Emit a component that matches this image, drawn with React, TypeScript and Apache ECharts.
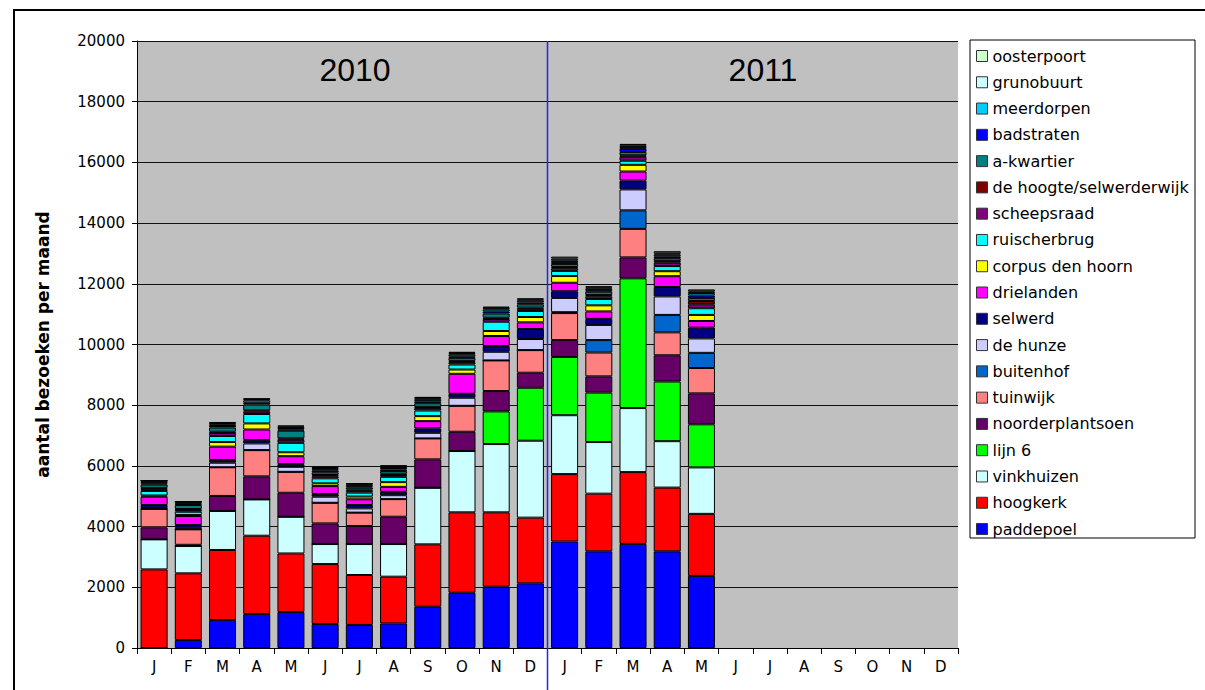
import React, { useEffect, useRef } from "react";
import * as echarts from "echarts";

const months = ["J", "F", "M", "A", "M", "J", "J", "A", "S", "O", "N", "D", "J", "F", "M", "A", "M", "J", "J", "A", "S", "O", "N", "D"];
const yTicks = { min: 0, max: 20000, interval: 2000 };
const yearLabels = ["2010", "2011"];

const paddepoel = [0, 264, 920, 1120, 1185, 790, 760, 810, 1360, 1820, 2020, 2130, 3510, 3185, 3430, 3185, 2375];
const hoogkerk = [2590, 2196, 2310, 2580, 1930, 1975, 1645, 1540, 2055, 2650, 2450, 2165, 2220, 1900, 2365, 2100, 2045];
const vinkhuizen = [990, 900, 1285, 1195, 1210, 660, 1020, 1075, 1865, 2020, 2250, 2535, 1940, 1700, 2110, 1530, 1530];
const lijn6 = [0, 0, 0, 0, 0, 0, 0, 0, 0, 0, 1075, 1745, 1920, 1630, 4275, 1965, 1420];
const noorderplantsoen = [395, 40, 495, 760, 790, 680, 595, 900, 935, 635, 670, 495, 555, 535, 690, 865, 1020];
const tuinwijk = [605, 510, 945, 865, 690, 680, 440, 580, 690, 855, 1010, 745, 890, 785, 940, 755, 835];
const buitenhof = [0, 0, 0, 0, 0, 0, 0, 0, 0, 0, 0, 0, 30, 410, 610, 575, 500];
const deHunze = [30, 50, 150, 220, 165, 200, 140, 130, 185, 265, 285, 365, 470, 500, 690, 610, 475];
const selwerd = [100, 90, 90, 110, 90, 90, 110, 110, 145, 130, 190, 330, 220, 200, 290, 310, 355];
const drielanden = [275, 300, 440, 350, 260, 260, 190, 165, 240, 660, 330, 220, 280, 245, 300, 355, 220];
const corpusDenHoorn = [40, 30, 150, 200, 130, 90, 90, 155, 165, 140, 165, 175, 220, 200, 220, 165, 200];
const ruischerbrug = [150, 110, 200, 310, 310, 165, 130, 175, 185, 165, 305, 200, 170, 210, 135, 170, 220];
const scheepsraad = [60, 60, 100, 80, 100, 70, 60, 60, 80, 80, 90, 70, 90, 90, 130, 110, 130];
const deHoogte = [40, 30, 40, 40, 50, 40, 40, 40, 40, 40, 40, 40, 40, 40, 50, 60, 110];
const aKwartier = [110, 130, 140, 190, 250, 90, 70, 90, 120, 100, 140, 110, 100, 110, 110, 90, 100];
const badstraten = [40, 40, 50, 60, 40, 60, 40, 50, 50, 50, 70, 60, 60, 50, 100, 60, 80];
const meerdorpen = [50, 40, 60, 80, 50, 40, 50, 50, 60, 70, 70, 60, 60, 50, 60, 60, 80];
const grunobuurt = [40, 30, 40, 40, 50, 40, 30, 50, 60, 40, 50, 40, 60, 40, 60, 40, 60];
const oosterpoort = [0, 0, 30, 20, 30, 45, 20, 45, 40, 40, 35, 35, 60, 40, 45, 70, 60];

const seriesDefs: [string, number[], string][] = [
  ["paddepoel", paddepoel, "#0000FF"],
  ["hoogkerk", hoogkerk, "#FF0000"],
  ["vinkhuizen", vinkhuizen, "#CCFFFF"],
  ["lijn 6", lijn6, "#00FF00"],
  ["noorderplantsoen", noorderplantsoen, "#660066"],
  ["tuinwijk", tuinwijk, "#FF8080"],
  ["buitenhof", buitenhof, "#0066CC"],
  ["de hunze", deHunze, "#CCCCFF"],
  ["selwerd", selwerd, "#000080"],
  ["drielanden", drielanden, "#FF00FF"],
  ["corpus den hoorn", corpusDenHoorn, "#FFFF00"],
  ["ruischerbrug", ruischerbrug, "#00FFFF"],
  ["scheepsraad", scheepsraad, "#800080"],
  ["de hoogte/selwerderwijk", deHoogte, "#800000"],
  ["a-kwartier", aKwartier, "#008080"],
  ["badstraten", badstraten, "#0000FF"],
  ["meerdorpen", meerdorpen, "#00CCFF"],
  ["grunobuurt", grunobuurt, "#CCFFFF"],
  ["oosterpoort", oosterpoort, "#CCFFCC"],
];

const FONT = "DejaVu Sans";

export default function App() {
  const ref = useRef<HTMLDivElement>(null);
  useEffect(() => {
    if (!ref.current) return;
    const chart = echarts.init(ref.current, null, { renderer: "svg" });
    const gridLeft = 137, gridTop = 41, gridW = 821, gridH = 607;
    const catW = gridW / months.length;
    const series = seriesDefs.map(([name, vals, color]) => ({
      name,
      type: "bar",
      stack: "total",
      barCategoryGap: "21%",
      data: months.map((_, i) => (i < vals.length ? vals[i] : null)),
      itemStyle: { color, borderColor: "#000", borderWidth: 1 },
      emphasis: { disabled: true },
    }));
    chart.setOption({
      animation: false,
      backgroundColor: "#fff",
      textStyle: { fontFamily: FONT },
      grid: { left: gridLeft, top: gridTop, width: gridW, height: gridH, show: true, backgroundColor: "#C0C0C0", borderWidth: 0 },
      legend: {
        left: 970,
        top: 40,
        orient: "vertical",
        icon: "rect",
        padding: [8, 8, 8, 6],
        itemWidth: 11,
        itemHeight: 11,
        itemGap: 10.28,
        data: seriesDefs.map((s) => s[0]).reverse(),
        itemStyle: { borderColor: "#333", borderWidth: 1 },
        textStyle: { fontFamily: FONT, fontSize: 16, lineHeight: 16, color: "#000" },
        selectedMode: false,
      },
      xAxis: {
        type: "category",
        data: months,
        axisLine: { lineStyle: { color: "#000", width: 1 } },
        axisTick: { show: true, length: 6, lineStyle: { color: "#000" }, alignWithLabel: false },
        axisLabel: { color: "#000", fontSize: 15, fontFamily: FONT, margin: 11, interval: 0 },
        splitLine: { show: false },
      },
      yAxis: {
        type: "value",
        min: yTicks.min,
        max: yTicks.max,
        interval: yTicks.interval,
        name: "aantal bezoeken per maand",
        nameLocation: "middle",
        nameRotate: 90,
        nameGap: 86,
        nameTextStyle: { fontFamily: FONT, fontSize: 17, fontWeight: "bold", color: "#000" },
        axisLine: { show: true, lineStyle: { color: "#000", width: 1 } },
        axisTick: { show: true, length: 5, lineStyle: { color: "#000" } },
        axisLabel: { color: "#000", fontSize: 15, fontFamily: FONT, margin: 12, formatter: (v: number) => String(v) },
        splitLine: { show: true, lineStyle: { color: "#111", width: 1 } },
      },
      series,
      graphic: [
        { type: "rect", silent: true, shape: { x: 14, y: 10, width: 1400, height: 900 }, style: { fill: "none", stroke: "#000", lineWidth: 2 } },
        { type: "rect", silent: true, z: -1, shape: { x: 970, y: 40, width: 225, height: 498 }, style: { fill: "#fff", stroke: "#000", lineWidth: 1 } },
        { type: "line", silent: true, z: 100, shape: { x1: gridLeft + catW * 12, y1: gridTop, x2: gridLeft + catW * 12, y2: 690 }, style: { stroke: "#2222ff", lineWidth: 1.5 } },
        { type: "text", silent: true, z: 100, x: 355, y: 70, style: { text: yearLabels[0], font: "32px 'Liberation Sans'", fill: "#000", align: "center", verticalAlign: "middle" } },
        { type: "text", silent: true, z: 100, x: 763, y: 70, style: { text: yearLabels[1], font: "32px 'Liberation Sans'", fill: "#000", align: "center", verticalAlign: "middle" } },
      ],
    });
    return () => chart.dispose();
  }, []);
  return <div ref={ref} style={{ position: "fixed", left: 0, top: 0, width: 1205, height: 690 }} />;
}
